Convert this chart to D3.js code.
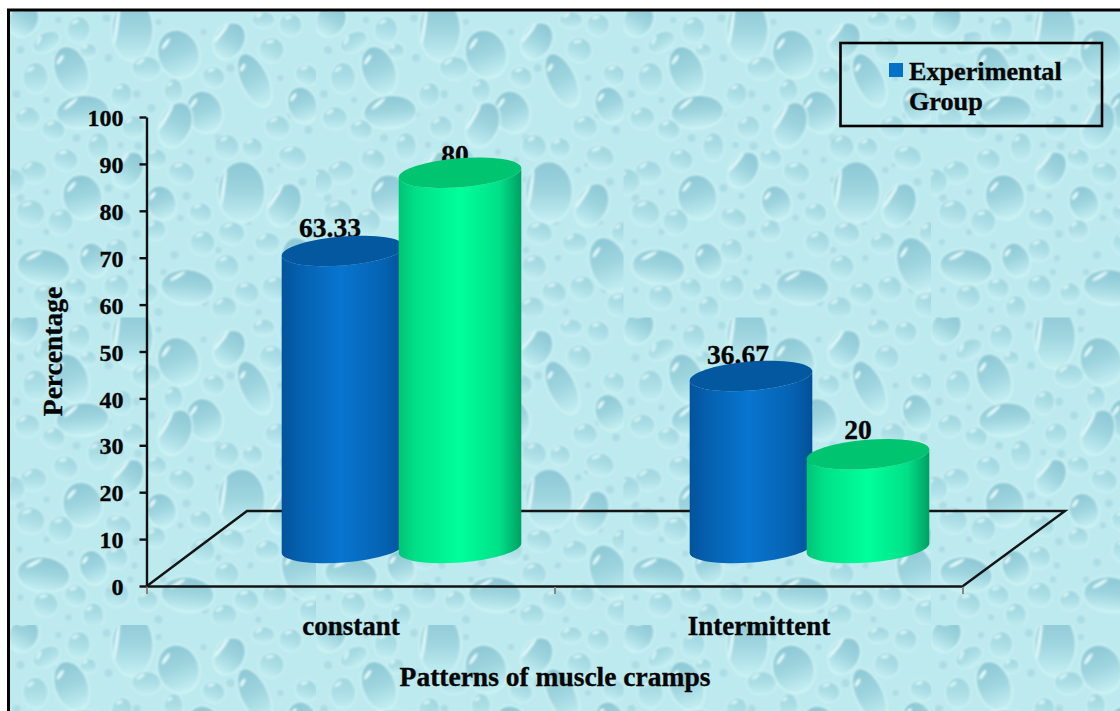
<!DOCTYPE html>
<html>
<head>
<meta charset="utf-8">
<title>Patterns of muscle cramps</title>
<script src="https://cdn.jsdelivr.net/npm/d3@7"></script>
<style>
  html, body { margin: 0; padding: 0; background: #fff; overflow: hidden; }
  svg { display: block; }
  text { font-family: "Liberation Serif", serif; font-weight: bold; fill: #050505; stroke: #050505; stroke-width: 0.35px; }
</style>
</head>
<body>
<svg id="chart" width="1120" height="711"></svg>
<script>
// Chart data
const categories = ["constant", "Intermittent"];
const seriesNames = ["Experimental Group", "Control Group"];
const experimentalValues = [63.33, 36.67];
const controlValues = [80, 20];
const valueTicks = [0, 10, 20, 30, 40, 50, 60, 70, 80, 90, 100];

const yTitle = "Percentage";
const xTitle = "Patterns of muscle cramps";
const legendLines = ["Experimental", "Group"];

// Water-drop wallpaper tile: [cx, cy, rx, ry, rotation, hasStreak]
const largeDrops = [
  [15, 10, 14, 17, 30, 0], [124, 20, 20, 31, 0, 1], [170, 44, 20, 24, -20, 0],
  [221, 31, 14, 19, 30, 1], [263, 40, 12, 12, 25, 0], [282, 15, 11, 11, 20, 0],
  [255, 10, 11, 8, 0, 0], [70, 20, 11, 13, 10, 0], [38, 32, 14, 9, -30, 0],
  [63, 61, 16, 25, -20, 0], [27, 68, 12, 15, 0, 0], [138, 58, 14, 11, 0, 0],
  [80, 41, 8, 7, 0, 0], [205, 67, 11, 10, 20, 0], [246, 70, 13, 28, -25, 0],
  [298, 65, 11, 10, 20, 0], [113, 85, 10, 12, 15, 0], [165, 81, 9, 12, 0, 0],
  [196, 102, 17, 21, -20, 0], [74, 102, 26, 16, -5, 0], [167, 115, 15, 23, 22, 1],
  [19, 108, 12, 11, 0, 0], [45, 120, 11, 10, 15, 0], [90, 137, 10, 14, 0, 0],
  [57, 150, 12, 11, 20, 0], [25, 162, 13, 11, 0, 0], [120, 160, 13, 19, 32, 1],
  [125, 117, 11, 11, 0, 0], [147, 148, 11, 9, 15, 0], [173, 163, 13, 11, 20, 0],
  [74, 187, 19, 22, -15, 0], [153, 193, 14, 17, -20, 0], [22, 203, 14, 13, 15, 0],
  [52, 212, 12, 13, 20, 0], [110, 208, 13, 10, 20, 0], [147, 220, 10, 10, 0, 0],
  [192, 203, 11, 10, 15, 0], [108, 240, 11, 11, 15, 0], [85, 250, 13, 17, -20, 0],
  [35, 257, 26, 17, 8, 0], [194, 233, 12, 12, 15, 0], [179, 277, 26, 17, 5, 0],
  [67, 278, 11, 10, 20, 0], [37, 287, 12, 12, 20, 0], [108, 277, 12, 12, 15, 0],
  [139, 283, 10, 10, 0, 0], [85, 298, 10, 12, 0, 0], [294, 95, 14, 18, -20, 0],
  [269, 117, 12, 11, 10, 0], [218, 137, 12, 12, 15, 0], [244, 138, 10, 10, 10, 0],
  [284, 147, 14, 11, 15, 0], [4, 172, 12, 13, 0, 0], [233, 182, 23, 30, 0, 1],
  [276, 195, 15, 22, 25, 1], [223, 223, 13, 11, 15, 0], [259, 233, 12, 10, 0, 0],
  [306, 223, 10, 11, 0, 0], [293, 255, 18, 28, -20, 0], [218, 257, 12, 12, 15, 0],
  [238, 283, 12, 11, 20, 0], [266, 278, 12, 12, 20, 0], [304, 295, 13, 12, 20, 0],
  [216, 298, 12, 11, 0, 0]
];
// Tiny beads scattered between the larger drops: [cx, cy, r]
const tinyDrops = [
  [50, 10, 4], [98, 8, 5], [150, 12, 4], [195, 22, 4], [240, 50, 4], [100, 48, 5],
  [12, 40, 5], [48, 44, 4], [128, 84, 5], [143, 98, 5], [222, 58, 5], [272, 68, 4],
  [282, 105, 4], [8, 84, 5], [38, 90, 4], [100, 104, 4], [88, 110, 5], [210, 128, 5],
  [68, 128, 5], [112, 135, 4], [130, 136, 5], [182, 142, 4], [300, 120, 5], [262, 160, 4],
  [38, 182, 4], [100, 178, 5], [118, 186, 4], [178, 186, 5], [210, 170, 4], [200, 150, 4],
  [270, 155, 3], [294, 172, 5], [12, 188, 5], [172, 208, 4], [128, 224, 5], [240, 212, 4],
  [284, 212, 4], [38, 222, 4], [62, 236, 4], [126, 248, 4], [166, 245, 5], [210, 240, 4],
  [242, 248, 4], [11, 232, 4], [12, 280, 4], [122, 262, 4], [155, 262, 4], [60, 300, 4],
  [150, 302, 5], [196, 292, 5], [250, 302, 4], [288, 280, 4]
];

const svg = d3.select("#chart");
const defs = svg.append("defs");

// Cylinder side shading and wallpaper gradients
function sideGradient(id, stops) {
  const g = defs.append("linearGradient").attr("id", id)
    .attr("x1", 0).attr("x2", 1).attr("y1", 0).attr("y2", 0);
  stops.forEach(([o, c]) => g.append("stop").attr("offset", o).attr("stop-color", c));
}
sideGradient("side-blue", [[0, "#03539c"], [0.14, "#0560ae"], [0.48, "#0875d0"], [0.85, "#0561b0"], [1, "#034f98"]]);
sideGradient("side-green", [[0, "#00c476"], [0.14, "#00e088"], [0.5, "#00ff99"], [0.82, "#00e089"], [1, "#009f62"]]);

const tileBase = "#bdeaef";
const dropFill = defs.append("linearGradient").attr("id", "drop-fill")
  .attr("x1", 0).attr("x2", 0).attr("y1", 0).attr("y2", 1);
[[0, "#8cc8d5"], [0.45, "#9dd4de"], [0.9, tileBase], [1, "#c8f0f3"]].forEach(([o, c]) =>
  dropFill.append("stop").attr("offset", o).attr("stop-color", c));

defs.append("filter").attr("id", "soften")
  .attr("x", "-5%").attr("y", "-5%").attr("width", "110%").attr("height", "110%")
  .append("feGaussianBlur").attr("stdDeviation", 1);

// Wallpaper tile
const tile = defs.append("pattern").attr("id", "water")
  .attr("patternUnits", "userSpaceOnUse")
  .attr("x", 8.5).attr("y", 10).attr("width", 307.5).attr("height", 307.5);
tile.append("rect").attr("width", 307.5).attr("height", 307.5).attr("fill", tileBase);
const tileInk = tile.append("g").attr("filter", "url(#soften)");

tileInk.selectAll("circle.tiny").data(tinyDrops).join("circle")
  .attr("class", "tiny")
  .attr("cx", d => d[0]).attr("cy", d => d[1]).attr("r", d => d[2])
  .attr("fill", "#acdde5").attr("stroke", "#d0f3f5").attr("stroke-width", 0.8);

const drop = tileInk.selectAll("g.drop").data(largeDrops).join("g")
  .attr("class", "drop")
  .attr("opacity", d => d[3] >= 16 ? 1 : 0.58)
  .attr("transform", d => `translate(${d[0]},${d[1]}) rotate(${d[4]})`);
drop.append("ellipse")
  .attr("rx", d => d[2] + 1.5).attr("ry", d => d[3] + 1.5)
  .attr("fill", "#d2f5f6");
drop.append("ellipse")
  .attr("rx", d => d[2]).attr("ry", d => d[3])
  .attr("fill", "url(#drop-fill)");
drop.append("ellipse")
  .attr("cx", d => d[5] ? -d[2] * 0.78 : -d[2] * 0.42)
  .attr("cy", d => d[5] ? -d[3] * 0.15 : -d[3] * 0.58)
  .attr("rx", d => d[5] ? 1.6 : Math.max(2, d[2] * 0.34))
  .attr("ry", d => d[5] ? d[3] * 0.62 : 1.7)
  .attr("transform", d => {
    const cx = d[5] ? -d[2] * 0.78 : -d[2] * 0.42;
    const cy = d[5] ? -d[3] * 0.15 : -d[3] * 0.58;
    return `rotate(${d[5] ? 8 : -35} ${cx} ${cy})`;
  })
  .attr("fill", "#e4fafa");

// Framed background
svg.append("rect").attr("x", 8.5).attr("y", 10).attr("width", 1130).attr("height", 720)
  .attr("fill", "url(#water)").attr("stroke", "#000").attr("stroke-width", 3);

// Scales
const y = d3.scaleLinear().domain([0, 100]).range([586, 117]);
const xBand = d3.scaleBand().domain(categories).range([147, 963]);
const xSeries = d3.scaleBand().domain(seriesNames).range([-66.5, 167.5]);

// Depth of the 3D floor
const floorDepthX = 101;
const floorDepthY = 75;
const barBaseLift = 38;
const cylRx = 61.5, cylRy = 14.5, cylTilt = -4.6;
const tiltRad = cylTilt * Math.PI / 180;

// Floor outline
const floorPts = [
  [xBand.range()[0], y(0)],
  [xBand.range()[0] + floorDepthX - 1, y(0) - floorDepthY],
  [xBand.range()[1] + floorDepthX + 1, y(0) - floorDepthY],
  [xBand.range()[1], y(0)]
];
svg.append("path")
  .attr("d", d3.line()(floorPts))
  .attr("fill", "none").attr("stroke", "#141414").attr("stroke-width", 2.4);

// Category axis
const xAxis = svg.append("g").attr("transform", `translate(0,${y(0)})`)
  .call(d3.axisBottom(xBand).tickSize(0).tickPadding(30));
xAxis.select(".domain").attr("stroke", "#141414").attr("stroke-width", 2.6);
xAxis.selectAll("text")
  .style("font-family", '"Liberation Serif", serif')
  .style("font-weight", "bold").style("font-size", "27px").attr("fill", "#050505")
  .attr("dy", "0.71em");
const boundaries = categories.map(c => xBand(c)).concat(xBand.range()[1]);
svg.append("g").selectAll("line").data(boundaries).join("line")
  .attr("x1", d => d).attr("x2", d => d)
  .attr("y1", y(0) + 1).attr("y2", y(0) + 8)
  .attr("stroke", "#8a8583").attr("stroke-width", 2);

// Value axis
const yAxis = svg.append("g").attr("transform", "translate(146.5,0)")
  .call(d3.axisLeft(y).tickValues(valueTicks).tickSizeInner(7).tickSizeOuter(0).tickPadding(16));
yAxis.select(".domain").attr("stroke", "#111").attr("stroke-width", 2.4);
yAxis.selectAll(".tick line").attr("stroke", "#111").attr("stroke-width", 2.4);
yAxis.selectAll("text")
  .style("font-family", '"Liberation Serif", serif')
  .style("font-weight", "bold").style("font-size", "24px").attr("fill", "#050505")
  .attr("dy", "0.36em");

// Long form records for the four cylinders
const bars = categories.flatMap((c, i) => [
  { category: c, series: seriesNames[0], value: experimentalValues[i], side: "url(#side-blue)", top: "#03589f" },
  { category: c, series: seriesNames[1], value: controlValues[i], side: "url(#side-green)", top: "#00c46f" }
]);
const barCx = d => xBand(d.category) + xBand.bandwidth() / 2 + xSeries(d.series) + xSeries.bandwidth() / 2;
const barBase = () => y(0) - barBaseLift;
const barTop = d => y(d.value) - barBaseLift;
const dx = cylRx * Math.cos(tiltRad), dy = cylRx * Math.sin(tiltRad);

// Value labels sit behind the cylinder tops
const labelNudge = new Map([[63.33, [-13, 14]], [80, [-5, 9]], [36.67, [-13, 12]], [20, [-10, 15]]]);
svg.append("g").selectAll("text").data(bars).join("text")
  .attr("x", d => barCx(d) + labelNudge.get(d.value)[0])
  .attr("y", d => barTop(d) - labelNudge.get(d.value)[1])
  .attr("text-anchor", "middle")
  .style("font-size", "27.5px")
  .text(d => d.value);

// Cylinders
const cyl = svg.append("g").selectAll("g").data(bars).join("g");
cyl.append("path")
  .attr("fill", d => d.side)
  .attr("d", d => {
    const cx = barCx(d), t = barTop(d), b = barBase();
    return `M${cx - dx},${t - dy}L${cx - dx},${b - dy}` +
      `A${cylRx},${cylRy} ${cylTilt} 0 0 ${cx + dx},${b + dy}` +
      `L${cx + dx},${t + dy}` +
      `A${cylRx},${cylRy} ${cylTilt} 0 1 ${cx - dx},${t - dy}Z`;
  });
cyl.append("ellipse")
  .attr("rx", cylRx).attr("ry", cylRy)
  .attr("transform", d => `translate(${barCx(d)},${barTop(d)}) rotate(${cylTilt})`)
  .attr("fill", d => d.top);

// Axis titles
svg.append("text").attr("transform", `translate(62,${(y(0) + y(100)) / 2}) rotate(-90)`)
  .attr("text-anchor", "middle").style("font-size", "27.5px").text(yTitle);
svg.append("text").attr("x", 555).attr("y", 686)
  .attr("text-anchor", "middle").style("font-size", "27.5px").text(xTitle);

// Legend
const legend = svg.append("g");
legend.append("rect").attr("x", 840.5).attr("y", 43).attr("width", 261.5).attr("height", 83)
  .attr("fill", "none").attr("stroke", "#000").attr("stroke-width", 2.6);
legend.append("rect").attr("x", 889).attr("y", 63).attr("width", 14).attr("height", 14)
  .attr("fill", "#0570c6");
legend.selectAll("text").data(legendLines).join("text")
  .attr("x", 909).attr("y", (d, i) => 80 + i * 30)
  .style("font-size", "26.2px").text(d => d);
</script>
</body>
</html>
